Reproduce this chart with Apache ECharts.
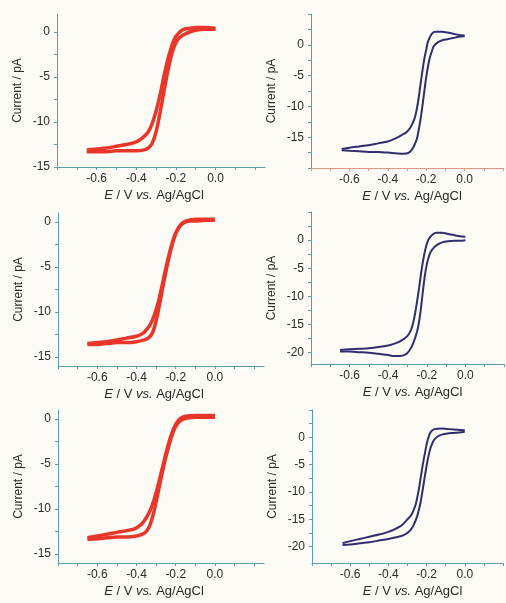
<!DOCTYPE html>
<html><head><meta charset="utf-8">
<script src="https://cdn.jsdelivr.net/npm/echarts@6/dist/echarts.min.js"></script>
<style>html,body{margin:0;padding:0;background:#fdfbf5}#c{width:506px;height:603px}</style>
</head><body><div id="c"></div>
<script>
// ---- tick / label values ----
const xTickValues = [-0.8,-0.7,-0.6,-0.5,-0.4,-0.3,-0.2,-0.1,0.0,0.1,0.2];
const xLabelValues = [-0.6,-0.4,-0.2,0.0];
const yTicksSmall = [-15,-12.5,-10,-7.5,-5,-2.5,0];
const yLabelsSmall = [-15,-10,-5,0];
const yTicksTopRight = [-20,-17.5,-15,-12.5,-10,-7.5,-5,-2.5,0,2.5,5];
const yLabelsTopRight = [-15,-10,-5,0];
const yTicksBig = [-20,-17.5,-15,-12.5,-10,-7.5,-5,-2.5,0,2.5,5];
const yLabelsBig = [-20,-15,-10,-5,0];

// ---- Panel 1 (top-left, red) ----
const p1A_E = [0,-0.05,-0.1,-0.13,-0.16,-0.18,-0.2,-0.22,-0.24,-0.26,-0.28,-0.30,-0.32,-0.34,-0.36,-0.4,-0.45,-0.5,-0.55,-0.6,-0.65];
const p1A_I = [0.3,0.3,0.2,0.0,-0.3,-0.6,-1.2,-2.4,-4.3,-6.6,-9.0,-11.1,-12.4,-12.9,-13.1,-13.2,-13.2,-13.2,-13.3,-13.3,-13.3];
const p1B_E = [-0.65,-0.6,-0.55,-0.5,-0.45,-0.4,-0.37,-0.34,-0.32,-0.30,-0.28,-0.26,-0.24,-0.22,-0.2,-0.18,-0.16,-0.13,-0.1,-0.05,0];
const p1B_I = [-13.1,-13.0,-12.9,-12.7,-12.5,-12.2,-11.8,-11.1,-10.2,-8.8,-7.0,-4.9,-3.0,-1.5,-0.5,0.0,0.3,0.4,0.5,0.5,0.4];

// ---- Panel 2 (top-right, blue) ----
const p2A_E = [-0.64,-0.6,-0.55,-0.5,-0.45,-0.4,-0.36,-0.33,-0.30,-0.28,-0.26,-0.25,-0.24,-0.23,-0.22,-0.21,-0.20,-0.19,-0.17,-0.15,-0.12,-0.09,-0.06,-0.03,0.0];
const p2A_I = [-16.9,-16.7,-16.5,-16.3,-16.0,-15.7,-15.2,-14.7,-14.1,-13.3,-11.9,-10.6,-8.8,-6.5,-4.3,-2.3,-0.8,0.6,1.8,2.1,2.1,2.0,1.8,1.6,1.5];
const p2B_E = [0.0,-0.03,-0.06,-0.09,-0.12,-0.14,-0.16,-0.17,-0.18,-0.19,-0.20,-0.21,-0.22,-0.23,-0.24,-0.25,-0.27,-0.29,-0.32,-0.36,-0.4,-0.45,-0.5,-0.55,-0.6,-0.64];
const p2B_I = [1.4,1.3,1.1,0.9,0.7,0.4,-0.2,-1.0,-2.0,-3.4,-5.3,-7.6,-10.0,-12.2,-14.0,-15.4,-16.8,-17.5,-17.7,-17.6,-17.5,-17.4,-17.4,-17.3,-17.2,-17.1];

// ---- Panel 3 (middle-left, red) ----
const p3A_E = [-0.65,-0.6,-0.55,-0.5,-0.45,-0.4,-0.36,-0.34,-0.32,-0.30,-0.28,-0.26,-0.24,-0.22,-0.20,-0.18,-0.16,-0.13,-0.1,-0.05,0];
const p3A_I = [-13.6,-13.6,-13.5,-13.4,-13.4,-13.3,-13.1,-12.9,-12.4,-11.0,-8.9,-6.6,-4.5,-2.7,-1.3,-0.5,-0.1,0.1,0.1,0.2,0.2];
const p3B_E = [-0.65,-0.6,-0.55,-0.5,-0.45,-0.4,-0.37,-0.35,-0.33,-0.31,-0.29,-0.27,-0.25,-0.23,-0.21,-0.19,-0.17,-0.15,-0.1,-0.05,0];
const p3B_I = [-13.5,-13.4,-13.3,-13.1,-12.9,-12.7,-12.4,-12.0,-11.4,-10.4,-9.0,-7.1,-5.1,-3.3,-1.8,-0.8,-0.2,0.1,0.3,0.3,0.3];

// ---- Panel 4 (middle-right, blue) ----
const p4A_E = [-0.65,-0.6,-0.55,-0.5,-0.45,-0.4,-0.36,-0.33,-0.30,-0.28,-0.27,-0.26,-0.25,-0.24,-0.23,-0.22,-0.21,-0.20,-0.19,-0.17,-0.15,-0.12,-0.09,-0.06,-0.03,0.0];
const p4A_I = [-19.5,-19.4,-19.3,-19.2,-19.0,-18.7,-18.3,-17.8,-17.0,-15.8,-14.6,-12.9,-10.8,-8.5,-6.0,-3.8,-2.0,-0.7,0.2,1.0,1.3,1.3,1.1,0.9,0.7,0.6];
const p4B_E = [0.0,-0.03,-0.06,-0.09,-0.12,-0.14,-0.16,-0.18,-0.19,-0.20,-0.21,-0.22,-0.23,-0.24,-0.25,-0.27,-0.29,-0.31,-0.34,-0.37,-0.4,-0.45,-0.5,-0.55,-0.6,-0.65];
const p4B_I = [0.0,-0.1,-0.1,-0.2,-0.4,-0.7,-1.2,-2.1,-3.0,-4.3,-6.3,-9.0,-12.0,-14.5,-16.2,-18.3,-19.6,-20.3,-20.6,-20.6,-20.4,-20.2,-20.0,-19.9,-19.8,-19.8];

// ---- Panel 5 (bottom-left, red) ----
const p5A_E = [-0.65,-0.6,-0.55,-0.5,-0.45,-0.4,-0.37,-0.35,-0.33,-0.31,-0.29,-0.27,-0.25,-0.23,-0.21,-0.19,-0.17,-0.14,-0.1,-0.05,0];
const p5A_I = [-13.4,-13.3,-13.2,-13.1,-13.1,-13.0,-12.8,-12.5,-11.7,-10.2,-8.2,-6.1,-4.2,-2.6,-1.3,-0.5,-0.1,0.1,0.2,0.2,0.2];
const p5B_E = [-0.65,-0.6,-0.55,-0.5,-0.45,-0.41,-0.38,-0.36,-0.34,-0.32,-0.30,-0.28,-0.26,-0.24,-0.22,-0.20,-0.18,-0.15,-0.1,-0.05,0];
const p5B_I = [-13.2,-13.0,-12.8,-12.6,-12.4,-12.2,-11.8,-11.3,-10.6,-9.6,-8.2,-6.5,-4.7,-3.0,-1.6,-0.6,0.0,0.3,0.4,0.4,0.4];

// ---- Panel 6 (bottom-right, blue) ----
const p6A_E = [-0.64,-0.6,-0.55,-0.5,-0.45,-0.4,-0.36,-0.33,-0.30,-0.28,-0.26,-0.25,-0.24,-0.23,-0.22,-0.21,-0.20,-0.19,-0.18,-0.16,-0.12,-0.08,-0.04,0.0];
const p6A_I = [-19.4,-19.0,-18.6,-18.2,-17.8,-17.3,-16.7,-16.1,-15.0,-14.2,-12.6,-11.2,-9.4,-7.2,-5.0,-3.1,-1.3,0.0,0.9,1.5,1.6,1.5,1.4,1.3];
const p6B_E = [0.0,-0.03,-0.06,-0.09,-0.12,-0.14,-0.16,-0.17,-0.18,-0.19,-0.20,-0.21,-0.22,-0.23,-0.24,-0.25,-0.27,-0.29,-0.32,-0.36,-0.4,-0.45,-0.5,-0.55,-0.6,-0.64];
const p6B_I = [1.0,0.9,0.8,0.7,0.5,0.2,-0.4,-1.1,-2.0,-3.4,-5.2,-7.3,-9.5,-11.6,-13.2,-14.5,-16.2,-17.2,-17.9,-18.3,-18.6,-18.9,-19.2,-19.4,-19.6,-19.7];

const pair = (xs, ys) => xs.map((x, i) => [x, ys[i]]);

const RED = '#e8362b', BLUE = '#312e70', TEAL = '#5c9ea4', SALMON = '#e39482';
const FONT = 'Liberation Sans, Arial, sans-serif';

const panels = [
  {grid:{left:57,top:14,width:208,height:153}, xmax:0.25, ymin:-15, ymax:2, yt:yTicksSmall, yl:yLabelsSmall, color:RED, w:3.5, xcol:TEAL, pad:[0,14,0,0], branches:[pair(p1A_E,p1A_I),pair(p1B_E,p1B_I)]},
  {grid:{left:311,top:14,width:192,height:154}, xmax:0.2, ymin:-20, ymax:5, yt:yTicksTopRight, yl:yLabelsTopRight, color:BLUE, w:2, xcol:SALMON, pad:[0,0,0,10], branches:[pair(p2A_E,p2A_I),pair(p2B_E,p2B_I)]},
  {grid:{left:58,top:213,width:206,height:153}, xmax:0.25, ymin:-16, ymax:1, yt:yTicksSmall, yl:yLabelsSmall, color:RED, w:3.5, xcol:TEAL, pad:[0,14,0,0], branches:[pair(p3A_E,p3A_I),pair(p3B_E,p3B_I)]},
  {grid:{left:311,top:212,width:193,height:152}, xmax:0.2, ymin:-22, ymax:5, yt:yTicksBig, yl:yLabelsBig, color:BLUE, w:2, xcol:TEAL, pad:[0,0,0,10], branches:[pair(p4A_E,p4A_I),pair(p4B_E,p4B_I)]},
  {grid:{left:58,top:410,width:206,height:153}, xmax:0.25, ymin:-16, ymax:1, yt:yTicksSmall, yl:yLabelsSmall, color:RED, w:3.5, xcol:TEAL, pad:[0,14,0,0], branches:[pair(p5A_E,p5A_I),pair(p5B_E,p5B_I)]},
  {grid:{left:312,top:410,width:191,height:153}, xmax:0.2, ymin:-23, ymax:5, yt:yTicksBig, yl:yLabelsBig, color:BLUE, w:2, xcol:TEAL, pad:[0,0,0,10], branches:[pair(p6A_E,p6A_I),pair(p6B_E,p6B_I)]}
];

const grid = [], xAxis = [], yAxis = [], series = [];
panels.forEach((p, i) => {
  grid.push(p.grid);
  xAxis.push({
    type:'value', gridIndex:i, min:-0.8, max:p.xmax,
    axisLine:{show:true, onZero:false, lineStyle:{color:p.xcol, width:1}},
    axisTick:{show:true, customValues:xTickValues.filter(v => v <= p.xmax + 1e-9), length:3, lineStyle:{color:p.xcol}},
    axisLabel:{customValues:xLabelValues, formatter:v => v.toFixed(1), color:'#2a2a2a', fontSize:12, fontFamily:FONT, margin:6},
    splitLine:{show:false},
    name:'{i|E} / V {i|vs.} Ag/AgCl', nameLocation:'middle', nameGap:22,
    nameTextStyle:{color:'#2a2a2a', fontSize:13, fontFamily:FONT, padding:p.pad,
      rich:{i:{fontStyle:'italic', fontSize:13, fontFamily:FONT, color:'#2a2a2a'}}}
  });
  yAxis.push({
    type:'value', gridIndex:i, min:p.ymin, max:p.ymax,
    axisLine:{show:true, onZero:false, lineStyle:{color:TEAL, width:1}},
    axisTick:{show:true, customValues:p.yt, length:3, lineStyle:{color:TEAL}},
    axisLabel:{customValues:p.yl, color:'#2a2a2a', fontSize:12, fontFamily:FONT, margin:7},
    splitLine:{show:false},
    name:'Current / pA', nameLocation:'middle', nameGap:33, nameRotate:90,
    nameTextStyle:{color:'#2a2a2a', fontSize:12, fontFamily:FONT}
  });
  p.branches.forEach(d => series.push({
    type:'line', xAxisIndex:i, yAxisIndex:i, data:d, showSymbol:false, smooth:0.3,
    lineStyle:{color:p.color, width:p.w}, silent:true, animation:false
  }));
});

const chart = echarts.init(document.getElementById('c'), null, {renderer:'canvas'});
chart.setOption({backgroundColor:'#fdfbf5', animation:false, grid, xAxis, yAxis, series});
</script></body></html>
